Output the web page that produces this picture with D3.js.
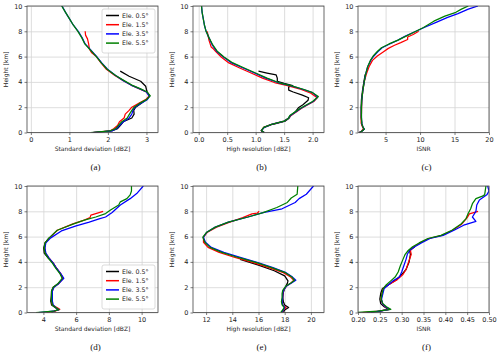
<!DOCTYPE html>
<html lang="en">
<head>
<meta charset="UTF-8">
<title>Height profiles</title>
<script src="https://d3js.org/d3.v7.min.js"></script>
<style>
  body { margin: 0; background: #fff; }
  svg { display: block; }
  .tick text { font-family: "DejaVu Sans", sans-serif; font-size: 6.5px; fill: #222; }
  .grid line { stroke: #d4d4d4; stroke-width: 0.8px; }
  .grid path { display: none; }
</style>
</head>
<body>
<div id="chart"></div>
<script>
/** DATA: each series is a list of [value, height km] */
var seriesNames = ["Ele. 0.5\u00b0", "Ele. 1.5\u00b0", "Ele. 3.5\u00b0", "Ele. 5.5\u00b0"];
var heightTicks = [0, 2, 4, 6, 8, 10];

var panelCaptions = ["(a)", "(b)", "(c)", "(d)", "(e)", "(f)"];
var xLabels = ["Standard deviation [dBZ]", "High resolution [dBZ]", "ISNR",
               "Standard deviation [dBZ]", "High resolution [dBZ]", "ISNR"];
var xDomains = [[-0.1, 3.3], [-0.1, 2.2], [1, 20], [3, 11], [11, 21], [0.2, 0.5]];
var xTicks = [[0, 1, 2, 3], [0, 0.5, 1, 1.5, 2], [5, 10, 15, 20], [4, 6, 8, 10],
              [12, 14, 16, 18, 20], [0.2, 0.25, 0.3, 0.35, 0.4, 0.45, 0.5]];
var xTickFormats = ["d", ".1f", "d", "d", "d", ".2f"];

// (a) standard deviation, upper
var aBlack = [[1.62,0],[2.1,0.12],[2.25,0.3],[2.32,0.55],[2.4,0.85],[2.62,1.15],[2.68,1.45],[2.67,1.75],[2.72,2.0],[2.86,2.3],[3.0,2.6],[3.08,2.9],[3.02,3.2],[3.0,3.4],[2.98,3.66],[2.85,4.05],[2.55,4.45],[2.32,4.85]];
var aRed = [[1.6,0],[2.05,0.12],[2.15,0.3],[2.25,0.55],[2.3,0.85],[2.42,1.15],[2.45,1.45],[2.55,1.75],[2.62,2.0],[2.8,2.3],[2.98,2.6],[3.08,2.9],[3.0,3.2],[2.82,3.45],[2.6,3.75],[2.4,4.1],[2.18,4.5],[1.96,5.0],[1.82,5.5],[1.7,6.0],[1.58,6.3],[1.52,6.6],[1.5,7.0],[1.47,7.4],[1.42,7.7],[1.41,8.0]];
var aBlue = [[1.6,0],[2.1,0.12],[2.22,0.3],[2.3,0.55],[2.4,0.85],[2.55,1.15],[2.62,1.45],[2.65,1.75],[2.7,2.0],[2.85,2.3],[3.02,2.6],[3.08,2.85],[3.0,3.2],[2.83,3.45],[2.6,3.75],[2.4,4.1],[2.2,4.5],[1.99,5.0],[1.84,5.5],[1.71,6.0],[1.56,6.5],[1.41,7.0],[1.33,7.5],[1.23,8.0],[1.1,8.5],[1.0,9.0],[0.9,9.5],[0.81,10]];
var aGreen = [[1.55,0],[2.05,0.12],[2.2,0.3],[2.27,0.55],[2.36,0.85],[2.5,1.15],[2.56,1.45],[2.62,1.75],[2.68,2.0],[2.82,2.3],[3.0,2.6],[3.1,2.9],[3.02,3.2],[2.85,3.45],[2.62,3.75],[2.42,4.1],[2.2,4.5],[1.98,5.0],[1.83,5.5],[1.7,6.0],[1.55,6.5],[1.4,7.0],[1.32,7.5],[1.22,8.0],[1.1,8.5],[1.0,9.0],[0.9,9.5],[0.8,10]];

// (b) high resolution, upper
var bBlack = [[1.12,0],[1.1,0.15],[1.15,0.4],[1.3,0.65],[1.52,0.9],[1.58,1.1],[1.62,1.35],[1.7,1.65],[1.75,1.95],[1.83,2.2],[1.92,2.55],[1.93,2.75],[1.82,2.95],[1.66,3.2],[1.58,3.35],[1.58,3.6],[1.65,3.7],[1.5,3.88],[1.38,4.05],[1.38,4.3],[1.36,4.55],[1.2,4.7],[1.05,4.85]];
var bRed = [[1.15,0],[1.1,0.15],[1.14,0.4],[1.28,0.65],[1.5,0.9],[1.57,1.1],[1.62,1.35],[1.72,1.65],[1.8,1.9],[1.9,2.15],[2.02,2.45],[2.08,2.75],[1.97,3.1],[1.8,3.4],[1.56,3.7],[1.33,3.95],[1.12,4.3],[0.92,4.7],[0.72,5.1],[0.53,5.5],[0.4,5.95],[0.3,6.4],[0.25,6.65],[0.22,6.75],[0.18,7.3],[0.15,8.0]];
var bBlue = [[1.15,0],[1.1,0.15],[1.15,0.4],[1.28,0.65],[1.5,0.9],[1.57,1.1],[1.61,1.35],[1.71,1.65],[1.79,1.9],[1.89,2.15],[2.01,2.45],[2.09,2.8],[2.0,3.15],[1.84,3.4],[1.61,3.7],[1.39,3.95],[1.18,4.3],[0.98,4.7],[0.78,5.1],[0.58,5.5],[0.44,5.95],[0.32,6.4],[0.24,6.9],[0.18,7.5],[0.13,8.0],[0.1,8.5],[0.08,9.0],[0.06,9.5],[0.05,10]];
var bGreen = [[1.15,0],[1.1,0.15],[1.14,0.4],[1.28,0.65],[1.5,0.9],[1.57,1.1],[1.6,1.35],[1.7,1.65],[1.78,1.9],[1.88,2.15],[2.0,2.45],[2.1,2.85],[2.0,3.15],[1.85,3.4],[1.62,3.7],[1.4,3.95],[1.2,4.3],[1.0,4.7],[0.8,5.1],[0.6,5.5],[0.45,5.95],[0.33,6.4],[0.25,6.9],[0.18,7.5],[0.13,8.0],[0.1,8.5],[0.08,9.0],[0.06,9.5],[0.05,10]];

// (c) ISNR, upper
var cBlack = [[1.2,0],[1.5,0.08],[1.9,0.25],[1.7,0.45],[1.55,0.7],[1.45,1.2],[1.45,2.0],[1.5,2.6],[1.65,3.3],[1.85,4.0],[2.05,4.6]];
var cRed = [[1.2,0],[1.5,0.1],[1.8,0.3],[1.6,0.5],[1.45,0.75],[1.5,1.5],[1.55,2.5],[1.7,3.3],[1.9,4.0],[2.2,4.6],[2.6,5.2],[3.1,5.7],[3.8,6.05],[4.6,6.35],[5.4,6.65],[6.3,6.9],[7.2,7.1],[8.2,7.35],[8.2,7.55],[9.0,7.75],[9.8,8.0]];
var cBlue = [[1.2,0],[1.5,0.08],[1.9,0.25],[1.7,0.45],[1.55,0.7],[1.5,1.2],[1.5,2.0],[1.55,2.6],[1.7,3.3],[1.9,4.0],[2.1,4.6],[2.4,5.2],[2.85,5.7],[3.3,6.05],[3.9,6.4],[4.5,6.7],[5.6,7.0],[6.8,7.3],[7.8,7.6],[9.4,8.0],[10.6,8.3],[12.5,8.75],[14.0,9.1],[15.5,9.4],[17.0,9.75],[18.4,10]];
var cGreen = [[1.2,0],[1.5,0.08],[1.9,0.25],[1.7,0.45],[1.55,0.7],[1.5,1.2],[1.5,2.0],[1.55,2.6],[1.7,3.3],[1.9,4.0],[2.1,4.6],[2.4,5.2],[2.8,5.7],[3.2,6.05],[3.8,6.4],[4.4,6.7],[5.5,7.0],[6.8,7.3],[7.9,7.6],[9.4,8.0],[10.5,8.3],[12.0,8.8],[13.6,9.2],[15.2,9.5],[16.0,9.75],[17.0,10]];

// (d) standard deviation, lower
var dBlack = [[4.5,0],[4.65,0.1],[4.9,0.22],[4.72,0.4],[4.5,0.6],[4.45,0.9],[4.48,1.3],[4.5,1.7],[4.6,2.0],[4.92,2.3],[5.18,2.7],[5.02,3.1],[4.8,3.5],[4.6,3.9],[4.3,4.3],[4.05,4.7],[4.02,5.1],[4.1,5.5],[4.35,5.9]];
var dRed = [[4.2,0],[4.7,0.1],[5.0,0.25],[4.8,0.42],[4.55,0.6],[4.5,0.9],[4.52,1.3],[4.55,1.7],[4.62,2.0],[4.95,2.3],[5.2,2.7],[5.05,3.1],[4.8,3.5],[4.6,3.9],[4.35,4.3],[4.12,4.7],[4.08,5.1],[4.12,5.5],[4.38,5.9],[4.85,6.5],[5.8,7.0],[6.5,7.3],[6.85,7.5],[6.9,7.7],[7.65,8.0]];
var dBlue = [[3.7,0],[4.6,0.1],[4.95,0.22],[4.75,0.4],[4.6,0.6],[4.55,0.9],[4.55,1.3],[4.55,1.7],[4.65,2.0],[4.95,2.3],[5.25,2.7],[5.05,3.1],[4.8,3.5],[4.6,3.9],[4.35,4.3],[4.15,4.7],[4.1,5.1],[4.15,5.5],[4.45,5.9],[5.1,6.45],[6.0,6.85],[6.8,7.15],[7.4,7.4],[7.8,7.55],[8.2,7.9],[8.7,8.5],[9.3,9.0],[9.7,9.4],[10.1,10]];
var dGreen = [[3.55,0],[4.6,0.1],[4.95,0.22],[4.75,0.4],[4.55,0.6],[4.5,0.9],[4.5,1.3],[4.5,1.7],[4.6,2.0],[4.9,2.3],[5.15,2.7],[5.0,3.1],[4.75,3.5],[4.55,3.9],[4.3,4.3],[4.1,4.7],[4.05,5.1],[4.1,5.5],[4.35,5.9],[4.85,6.5],[5.85,7.0],[6.5,7.3],[7.2,7.55],[7.8,7.82],[8.1,8.1],[8.6,8.5],[8.7,8.75],[9.1,9.0],[9.3,9.3],[9.38,9.6],[9.38,10]];

// (e) high resolution, lower
var eBlack = [[17.9,0],[18.0,0.2],[18.3,0.4],[18.0,0.6],[17.9,0.85],[17.85,1.2],[17.9,1.6],[18.0,1.9],[18.2,2.3],[18.25,2.5],[18.0,2.9],[17.2,3.3],[16.0,3.75],[14.6,4.2]];
var eRed = [[17.8,0],[17.9,0.2],[18.1,0.4],[17.85,0.6],[17.8,0.85],[17.85,1.2],[17.85,1.5],[17.9,1.75],[18.15,2.1],[18.5,2.35],[18.7,2.55],[18.45,2.8],[17.9,3.15],[16.8,3.55],[15.6,3.95],[14.2,4.35],[13.0,4.75],[12.15,5.15],[11.8,5.55],[11.8,5.95],[12.1,6.35],[12.8,6.75],[13.7,7.1],[14.8,7.5],[15.5,7.8],[15.9,7.85],[16.05,8.0]];
var eBlue = [[17.75,0],[17.9,0.2],[18.0,0.4],[17.85,0.6],[17.8,0.85],[17.85,1.2],[17.85,1.5],[17.9,1.75],[18.15,2.1],[18.55,2.35],[18.85,2.55],[18.6,2.8],[18.1,3.15],[17.1,3.55],[15.95,3.95],[14.6,4.35],[13.35,4.75],[12.4,5.15],[11.95,5.55],[11.8,5.95],[12.05,6.35],[12.7,6.75],[13.7,7.15],[15.2,7.55],[16.35,7.9],[17.8,8.2],[18.8,8.7],[19.1,9.0],[19.65,9.35],[20.2,10]];
var eGreen = [[17.7,0],[17.85,0.2],[17.95,0.4],[17.8,0.6],[17.75,0.85],[17.8,1.2],[17.8,1.5],[17.85,1.75],[18.1,2.1],[18.5,2.35],[18.75,2.55],[18.55,2.8],[18.05,3.15],[17.0,3.55],[15.85,3.95],[14.45,4.35],[13.2,4.75],[12.3,5.15],[11.9,5.55],[11.75,5.95],[12.05,6.35],[12.7,6.75],[13.7,7.15],[15.2,7.55],[16.35,7.9],[17.4,8.3],[18.2,8.7],[18.5,9.05],[18.95,9.35],[19.0,10]];

// (f) ISNR, lower
var fBlack = [[0.23,0],[0.25,0.1],[0.27,0.25],[0.26,0.45],[0.252,0.7],[0.25,1.05],[0.252,1.5],[0.256,1.9],[0.27,2.2],[0.288,2.6],[0.3,3.0],[0.31,3.4],[0.317,4.0],[0.32,4.6],[0.318,4.9],[0.33,5.2]];
var fRed = [[0.21,0],[0.248,0.1],[0.272,0.25],[0.262,0.45],[0.256,0.7],[0.253,1.05],[0.255,1.5],[0.258,1.9],[0.27,2.2],[0.29,2.6],[0.303,3.0],[0.31,3.4],[0.316,4.0],[0.322,4.6],[0.32,4.9],[0.328,5.2],[0.342,5.5],[0.362,5.85],[0.392,6.1],[0.417,6.5],[0.438,7.0],[0.45,7.5],[0.455,7.8],[0.475,8.0]];
var fBlue = [[0.22,0],[0.25,0.1],[0.273,0.25],[0.263,0.45],[0.256,0.7],[0.254,1.05],[0.257,1.5],[0.26,1.9],[0.27,2.2],[0.28,2.5],[0.295,2.8],[0.3,3.2],[0.305,3.7],[0.31,4.2],[0.313,4.6],[0.318,4.9],[0.33,5.2],[0.345,5.5],[0.365,5.85],[0.395,6.1],[0.42,6.5],[0.442,6.9],[0.47,7.2],[0.462,7.55],[0.47,8.0],[0.472,8.5],[0.478,8.9],[0.495,9.3],[0.5,9.6],[0.497,10]];
var fGreen = [[0.2,0],[0.245,0.1],[0.275,0.25],[0.265,0.45],[0.257,0.7],[0.253,1.05],[0.255,1.5],[0.258,1.9],[0.265,2.2],[0.275,2.5],[0.285,2.8],[0.292,3.2],[0.297,3.7],[0.303,4.2],[0.308,4.6],[0.315,4.9],[0.325,5.2],[0.34,5.5],[0.36,5.85],[0.39,6.1],[0.415,6.5],[0.436,7.0],[0.447,7.4],[0.452,7.8],[0.458,8.2],[0.462,8.6],[0.47,9.0],[0.485,9.2],[0.49,9.3],[0.493,10]];

var panelSeries = [
  [aBlack, aRed, aBlue, aGreen],
  [bBlack, bRed, bBlue, bGreen],
  [cBlack, cRed, cBlue, cGreen],
  [dBlack, dRed, dBlue, dGreen],
  [eBlack, eRed, eBlue, eGreen],
  [fBlack, fRed, fBlue, fGreen]
];

/** STYLE / LAYOUT */
var lineColors = ["#000000", "#ff0000", "#0000ff", "#008000"];
var colLeft = [27, 193, 358];
var plotWidth = 131;
var rowTop = [6, 186];
var plotHeight = 126.5;

var svg = d3.select('#chart').append('svg')
  .attr('width', 500).attr('height', 355);

panelSeries.forEach(function (series, i) {
  var col = i % 3, row = Math.floor(i / 3);
  var g = svg.append('g')
    .attr('transform', 'translate(' + colLeft[col] + ',' + rowTop[row] + ')');

  var x = d3.scaleLinear().domain(xDomains[i]).range([0, plotWidth]);
  var y = d3.scaleLinear().domain([0, 10]).range([plotHeight, 0]);

  // grid
  g.append('g').attr('class', 'grid')
    .attr('transform', 'translate(0,' + plotHeight + ')')
    .call(d3.axisBottom(x).tickValues(xTicks[i]).tickSize(-plotHeight).tickFormat(''));
  g.append('g').attr('class', 'grid')
    .call(d3.axisLeft(y).tickValues(heightTicks).tickSize(-plotWidth).tickFormat(''));

  // lines
  var line = d3.line()
    .x(function (d) { return x(d[0]); })
    .y(function (d) { return y(d[1]); });
  var clipId = 'clip' + i;
  g.append('clipPath').attr('id', clipId).append('rect')
    .attr('width', plotWidth).attr('height', plotHeight);
  series.forEach(function (pts, k) {
    g.append('path')
      .datum(pts)
      .attr('clip-path', 'url(#' + clipId + ')')
      .attr('fill', 'none')
      .attr('stroke', lineColors[k])
      .attr('stroke-width', 1.25)
      .attr('stroke-linejoin', 'round')
      .attr('d', line);
  });

  // frame
  g.append('rect')
    .attr('width', plotWidth).attr('height', plotHeight)
    .attr('fill', 'none').attr('stroke', '#444').attr('stroke-width', 0.8);

  // axes
  var xAxis = g.append('g')
    .attr('transform', 'translate(0,' + plotHeight + ')')
    .call(d3.axisBottom(x).tickValues(xTicks[i]).tickSize(2.5).tickPadding(2)
      .tickFormat(d3.format(xTickFormats[i])));
  var yAxis = g.append('g')
    .call(d3.axisLeft(y).tickValues(heightTicks).tickSize(2.5).tickPadding(2));
  [xAxis, yAxis].forEach(function (a) {
    a.select('.domain').remove();
    a.selectAll('.tick line').attr('stroke', '#444').attr('stroke-width', 0.7);
  });

  // labels
  g.append('text')
    .attr('x', plotWidth / 2).attr('y', plotHeight + 18)
    .attr('text-anchor', 'middle')
    .style('font-family', 'DejaVu Sans, sans-serif').style('font-size', '6px')
    .attr('fill', '#222')
    .text(xLabels[i]);
  g.append('text')
    .attr('transform', 'translate(' + (-19.5) + ',' + (plotHeight / 2) + ') rotate(-90)')
    .attr('text-anchor', 'middle')
    .style('font-family', 'DejaVu Sans, sans-serif').style('font-size', '6px')
    .attr('fill', '#222')
    .text('Height [km]');
  g.append('text')
    .attr('x', plotWidth / 2 + 3).attr('y', plotHeight + 37)
    .attr('text-anchor', 'middle')
    .style('font-family', 'Liberation Serif, serif').style('font-size', '9px')
    .attr('fill', '#111')
    .text(panelCaptions[i]);

  // legend in (a) and (d)
  if (col === 0) {
    var legTop = row === 0 ? 3 : 79;
    var leg = g.append('g').attr('transform', 'translate(75,' + legTop + ')');
    leg.append('rect')
      .attr('width', 53).attr('height', 44).attr('rx', 2)
      .attr('fill', 'rgba(255,255,255,0.85)').attr('stroke', '#ccc').attr('stroke-width', 0.7);
    var item = leg.selectAll('g.item').data(seriesNames).enter().append('g')
      .attr('class', 'item')
      .attr('transform', function (_, k) { return 'translate(4,' + (6.5 + k * 9.2) + ')'; });
    item.append('line')
      .attr('x1', 0).attr('x2', 13).attr('y1', 0).attr('y2', 0)
      .attr('stroke-width', 1.5)
      .attr('stroke', function (_, k) { return lineColors[k]; });
    item.append('text')
      .attr('x', 16).attr('y', 2.2)
      .style('font-family', 'DejaVu Sans, sans-serif').style('font-size', '6.3px')
      .attr('fill', '#222')
      .text(function (d) { return d; });
  }
});
</script>
</body>
</html>
